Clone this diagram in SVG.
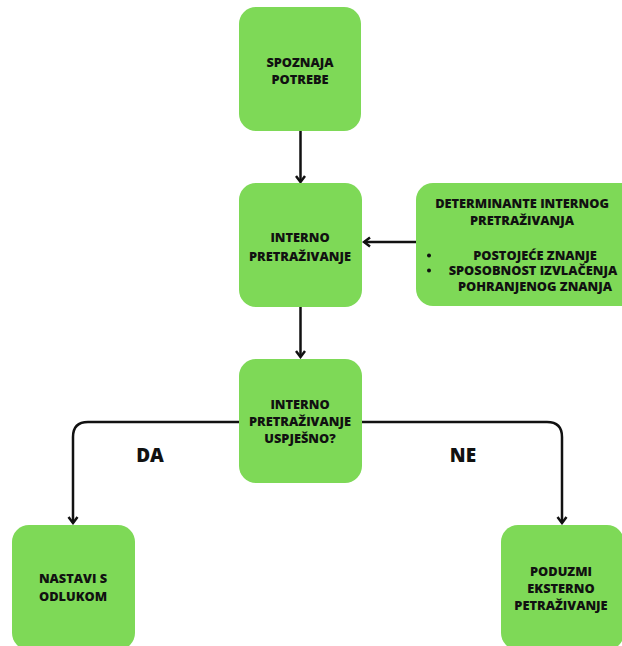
<svg xmlns="http://www.w3.org/2000/svg" width="622" height="646" viewBox="0 0 622 646">
<defs>
<style>
.node{fill:#7ed957;}
.t{font-family:"Open Sans","Liberation Sans",sans-serif;font-weight:800;font-size:12.8px;fill:#111;text-anchor:middle;}
.lbl{font-family:"Open Sans","Liberation Sans",sans-serif;font-weight:800;font-size:19px;fill:#111;text-anchor:middle;}
.c{fill:none;stroke:#111;stroke-width:2.5;}
</style>
<marker id="ah" markerUnits="userSpaceOnUse" viewBox="0 0 12 12" refX="10" refY="6" markerWidth="12" markerHeight="12" orient="auto">
<path d="M4,1.5 L10,6 L4,10.5" fill="none" stroke="#111" stroke-width="2.5" stroke-linejoin="miter"/>
</marker>
</defs>
<rect width="622" height="646" fill="#ffffff"/>
<g id="connectors">
<path class="c" d="M300.5,131 V182" marker-end="url(#ah)"/>
<path class="c" d="M300.5,307 V357" marker-end="url(#ah)"/>
<path class="c" d="M416,242 H364" marker-end="url(#ah)"/>
<path class="c" d="M239,422 H88 Q73,422 73,437 V523" marker-end="url(#ah)"/>
<path class="c" d="M362,422 H547 Q562,422 562,437 V523" marker-end="url(#ah)"/>
</g>
<g id="n1">
<rect class="node" x="239" y="7" width="122" height="124" rx="17"/>
<text class="t" x="300" y="66.5">SPOZNAJA</text>
<text class="t" x="300" y="83.5">POTREBE</text>
</g>
<g id="n2">
<rect class="node" x="239" y="183" width="123" height="124" rx="17"/>
<text class="t" x="300" y="241.5">INTERNO</text>
<text class="t" x="300" y="260.5">PRETRAŽIVANJE</text>
</g>
<g id="n3">
<rect class="node" x="416" y="183" width="222" height="123" rx="17"/>
<text class="t" x="522" y="207.5">DETERMINANTE INTERNOG</text>
<text class="t" x="522" y="224.5">PRETRAŽIVANJA</text>
<circle cx="429" cy="255.5" r="2" fill="#111"/>
<circle cx="429" cy="270.5" r="2" fill="#111"/>
<text class="t" x="535" y="260">POSTOJEĆE ZNANJE</text>
<text class="t" x="533" y="275">SPOSOBNOST IZVLAČENJA</text>
<text class="t" x="535" y="291">POHRANJENOG ZNANJA</text>
</g>
<g id="n4">
<rect class="node" x="239" y="359" width="123" height="124" rx="17"/>
<text class="t" x="300" y="408.5">INTERNO</text>
<text class="t" x="300" y="425.5">PRETRAŽIVANJE</text>
<text class="t" x="300" y="442.5">USPJEŠNO?</text>
</g>
<g id="n5">
<rect class="node" x="12" y="525" width="123" height="125" rx="17"/>
<text class="t" x="73" y="582.5">NASTAVI S</text>
<text class="t" x="73" y="600.5">ODLUKOM</text>
</g>
<g id="n6">
<rect class="node" x="501" y="525" width="123" height="125" rx="17"/>
<text class="t" x="561" y="575.5">PODUZMI</text>
<text class="t" x="561" y="592.5">EKSTERNO</text>
<text class="t" x="561" y="609.5">PETRAŽIVANJE</text>
</g>
<g id="labels">
<text class="lbl" x="150" y="462">DA</text>
<text class="lbl" x="463" y="462">NE</text>
</g>
</svg>
